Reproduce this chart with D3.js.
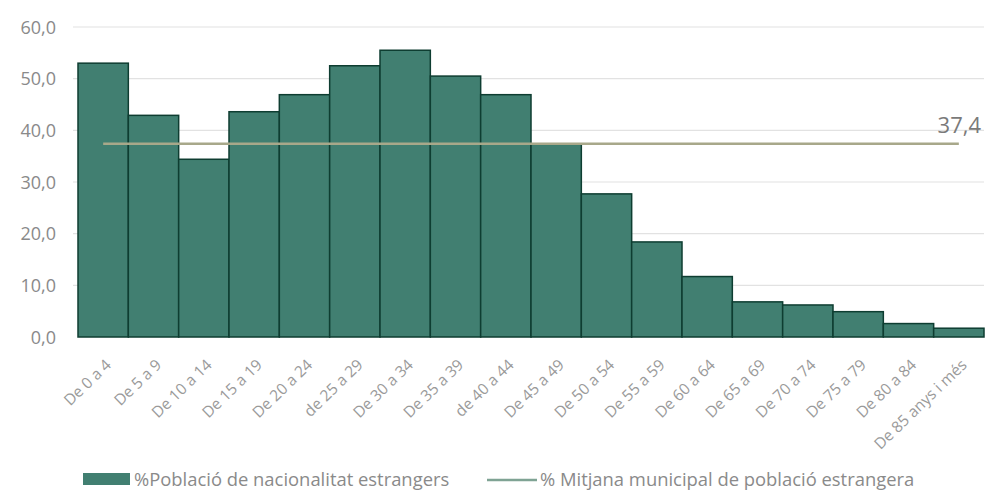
<!DOCTYPE html>
<html>
<head>
<meta charset="utf-8">
<script src="https://cdn.jsdelivr.net/npm/d3@7"></script>
<style>
  body { margin: 0; background: #fff; }
  text { font-family: "Open Sans", "Noto Sans", sans-serif; }
</style>
</head>
<body>
<svg id="mainsvg" width="987" height="493"></svg>
<script>
// data
let ageGroups = ["De 0 a 4", "De 5 a 9", "De 10 a 14", "De 15 a 19", "De 20 a 24", "de 25 a 29",
    "De 30 a 34", "De 35 a 39", "de 40 a 44", "De 45 a 49", "De 50 a 54", "De 55 a 59",
    "De 60 a 64", "De 65 a 69", "De 70 a 74", "De 75 a 79", "De 80 a 84", "De 85 anys i més"];
let foreignPct = [53.0, 42.9, 34.4, 43.6, 46.9, 52.5, 55.5, 50.5, 46.9, 37.3, 27.7, 18.4, 11.7, 6.8, 6.2, 4.9, 2.6, 1.7];
let municipalAvg = 37.4;
let yTicks = [0, 10, 20, 30, 40, 50, 60];
let legendLabels = ["%Població de nacionalitat estrangers", "% Mitjana municipal de població estrangera"];

let svg = d3.select("#mainsvg");
let plotLeft = 78, plotRight = 984, plotTop = 27, plotBottom = 337;

let x = d3.scaleBand().domain(ageGroups).range([plotLeft, plotRight]).padding(0);
let y = d3.scaleLinear().domain([0, 60]).range([plotBottom, plotTop]);
let fmt = d => d.toFixed(1).replace(".", ",");

// grid
let grid = svg.append("g").attr("id", "grid-g");
grid.selectAll("line").data(yTicks.filter(d => d > 0)).enter()
    .append("line")
    .attr("x1", 73).attr("x2", plotRight)
    .attr("y1", d => y(d)).attr("y2", d => y(d))
    .attr("stroke", "#e2e2e2").attr("stroke-width", 1.2);

// y axis labels
let yAxis = svg.append("g").attr("transform", "translate(56,0)")
    .call(d3.axisLeft(y).tickValues(yTicks).tickFormat(fmt).tickSize(0).tickPadding(0));
yAxis.select(".domain").remove();
yAxis.selectAll("text")
    .attr("fill", "#8a8a8a").attr("font-size", 18).attr("dy", "0.35em");

// bars
let barg = svg.append("g").attr("id", "bar-g");
barg.selectAll("rect").data(foreignPct).enter()
    .append("rect")
    .attr("x", (d, i) => x(ageGroups[i]))
    .attr("y", d => y(d))
    .attr("width", x.bandwidth())
    .attr("height", d => y(0) - y(d))
    .attr("fill", "#417f71")
    .attr("stroke", "#0e3d31")
    .attr("stroke-width", 1.5);

// average line
svg.append("line")
    .attr("x1", x(ageGroups[0]) + x.bandwidth() / 2)
    .attr("x2", x(ageGroups[ageGroups.length - 1]) + x.bandwidth() / 2)
    .attr("y1", y(municipalAvg)).attr("y2", y(municipalAvg))
    .attr("stroke", "#a8a88a").attr("stroke-width", 2.5);

svg.append("text")
    .attr("x", 981).attr("y", y(municipalAvg) - 11)
    .attr("text-anchor", "end")
    .attr("font-size", 22)
    .attr("fill", "#7a7a7a")
    .text(fmt(municipalAvg));

// x labels
let xg = svg.append("g").attr("id", "xlabel-g");
xg.selectAll("text").data(ageGroups).enter()
    .append("text")
    .attr("transform", d => "translate(" + (x(d) + x.bandwidth() / 2 + 9) + ",366) rotate(-44)")
    .attr("text-anchor", "end")
    .attr("font-size", 15.5)
    .attr("fill", "#9a9a9a")
    .text(d => d);

// legend
let lg = svg.append("g").attr("id", "legend-g");
lg.append("rect").attr("x", 83).attr("y", 473).attr("width", 47).attr("height", 12)
    .attr("fill", "#417f71");
lg.append("text").attr("x", 134).attr("y", 486).attr("font-size", 18.4).attr("fill", "#8a8a8a")
    .text(legendLabels[0]);
lg.append("line").attr("x1", 487).attr("x2", 537).attr("y1", 480).attr("y2", 480)
    .attr("stroke", "#7fa394").attr("stroke-width", 2.5);
lg.append("text").attr("x", 540).attr("y", 486).attr("font-size", 18.4).attr("fill", "#8a8a8a")
    .text(legendLabels[1]);
</script>
</body>
</html>
